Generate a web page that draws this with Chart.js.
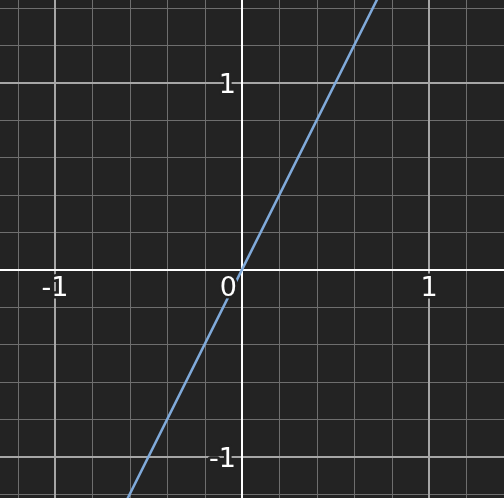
<!DOCTYPE html>
<html>
<head>
<meta charset="UTF-8" />
<title>y = 2x</title>
<script src="https://cdn.jsdelivr.net/npm/chart.js"></script>
<style>
  html, body { margin: 0; padding: 0; background: #232323; }
  #wrap { width: 504px; height: 498px; }
</style>
</head>
<body>
<div id="wrap"><canvas id="plot" width="504" height="498"></canvas></div>
<script>
// line points (y = 2x)
const xs = [-0.7, 0, 0.75];
const ys = [-1.4, 0, 1.5];

// visible window
const xRange = [-1.294, 1.401];
const yRange = [-1.221, 1.442];

// grid and labels
const minorX = [-1.2, -0.8, -0.6, -0.4, -0.2, 0.2, 0.4, 0.6, 0.8, 1.2];
const minorY = [-1.2, -0.8, -0.6, -0.4, -0.2, 0.2, 0.4, 0.6, 0.8, 1.2, 1.4];
const majorX = [-1, 1];
const majorY = [-1, 1];
const xLabels = ["-1", "0", "1"];
const xLabelVals = [-1, 0, 1];
const yLabels = ["1", "-1"];
const yLabelVals = [1, -1];

const BG = "#232323";

const gridPlugin = {
    id: "grid",
    beforeDatasetsDraw(chart) {
        const ctx = chart.ctx;
        const sx = chart.scales.x, sy = chart.scales.y;
        const W = chart.width, H = chart.height;
        ctx.save();
        ctx.fillStyle = BG;
        ctx.fillRect(0, 0, W, H);

        function vline(v, color, w) {
            const p = Math.round(sx.getPixelForValue(v)) + (w % 2 ? 0.5 : 0);
            ctx.strokeStyle = color; ctx.lineWidth = w;
            ctx.beginPath(); ctx.moveTo(p, 0); ctx.lineTo(p, H); ctx.stroke();
        }
        function hline(v, color, w) {
            const p = Math.round(sy.getPixelForValue(v)) + (w % 2 ? 0.5 : 0);
            ctx.strokeStyle = color; ctx.lineWidth = w;
            ctx.beginPath(); ctx.moveTo(0, p); ctx.lineTo(W, p); ctx.stroke();
        }
        minorX.forEach(v => vline(v, "#6e6e6e", 1));
        minorY.forEach(v => hline(v, "#6e6e6e", 1));
        majorX.forEach(v => vline(v, "#a6a6a6", 2));
        majorY.forEach(v => hline(v, "#a6a6a6", 2));
        vline(0, "#ffffff", 2);
        hline(0, "#ffffff", 2);
        ctx.restore();
    },
    afterDatasetsDraw(chart) {
        const ctx = chart.ctx;
        const sx = chart.scales.x, sy = chart.scales.y;
        const x0 = sx.getPixelForValue(0), y0 = sy.getPixelForValue(0);
        ctx.save();
        ctx.font = "27px 'DejaVu Sans'";
        ctx.textBaseline = "middle";
        ctx.lineJoin = "round";
        ctx.lineWidth = 5;
        ctx.strokeStyle = BG;
        ctx.fillStyle = "#ffffff";
        xLabels.forEach((t, i) => {
            const v = xLabelVals[i];
            let px = sx.getPixelForValue(v);
            if (v === 0) { ctx.textAlign = "right"; px = x0 - 5; }
            else ctx.textAlign = "center";
            ctx.strokeText(t, px, y0 + 19);
            ctx.fillText(t, px, y0 + 19);
        });
        ctx.textAlign = "right";
        yLabels.forEach((t, i) => {
            const py = sy.getPixelForValue(yLabelVals[i]) + 3;
            ctx.strokeText(t, x0 - 6, py);
            ctx.fillText(t, x0 - 6, py);
        });
        ctx.restore();
    }
};

new Chart(document.getElementById("plot"), {
    type: "line",
    data: {
        datasets: [{
            data: xs.map((x, i) => ({x: x, y: ys[i]})),
            borderColor: "#80aada",
            borderWidth: 2.5,
            pointRadius: 0,
            tension: 0
        }]
    },
    options: {
        responsive: false,
        animation: false,
        layout: { padding: 0 },
        plugins: { legend: { display: false }, tooltip: { enabled: false } },
        scales: {
            x: { type: "linear", min: xRange[0], max: xRange[1], display: false },
            y: { type: "linear", min: yRange[0], max: yRange[1], display: false }
        }
    },
    plugins: [gridPlugin]
});
</script>
</body>
</html>
